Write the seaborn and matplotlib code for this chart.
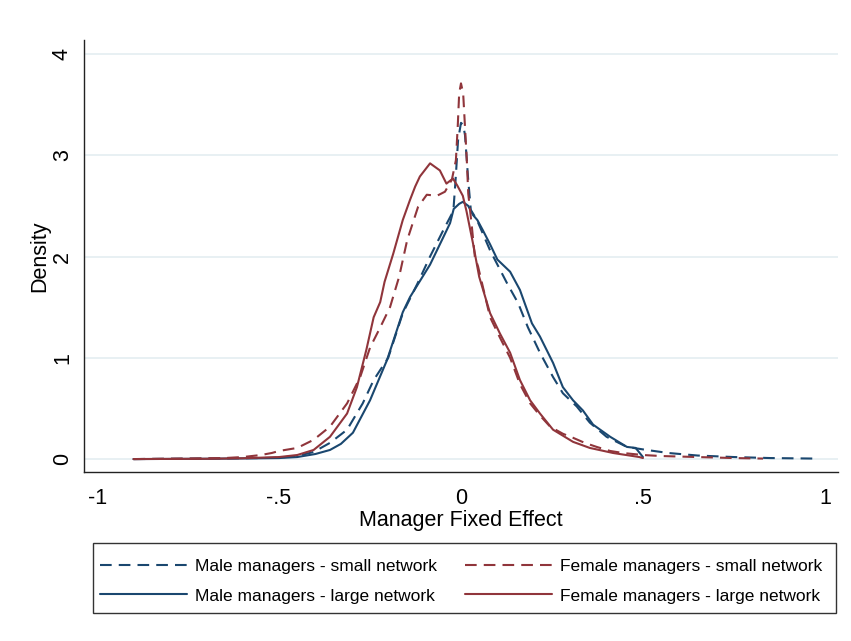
import numpy as np
import pandas as pd
import matplotlib
matplotlib.use("Agg")
import matplotlib.pyplot as plt
from matplotlib.patches import Rectangle
import seaborn as sns

# kernel density curves (x = manager FE, y = density)
male_small_x = [-0.90, -0.70, -0.55, -0.50, -0.45, -0.405, -0.36, -0.313, -0.27, -0.24, -0.20,
                -0.16, -0.12, -0.085, -0.05, -0.021, -0.015, -0.008, 0.0, 0.006, 0.011, 0.02,
                0.027, 0.044, 0.08, 0.126, 0.157, 0.184, 0.217, 0.253, 0.28, 0.318, 0.354,
                0.40, 0.456, 0.51, 0.57, 0.65, 0.75, 0.85, 0.97]
male_small_y = [0.0, 0.005, 0.01, 0.015, 0.03, 0.07, 0.16, 0.29, 0.55, 0.78, 1.0,
                1.44, 1.73, 2.0, 2.25, 2.45, 2.75, 3.15, 3.32, 3.3, 3.2, 2.75,
                2.46, 2.36, 2.06, 1.74, 1.54, 1.30, 1.05, 0.81, 0.65, 0.52, 0.36,
                0.22, 0.12, 0.09, 0.06, 0.035, 0.02, 0.01, 0.005]

male_large_x = [-0.90, -0.70, -0.55, -0.50, -0.45, -0.40, -0.36, -0.33, -0.297, -0.25, -0.203,
                -0.16, -0.14, -0.085, -0.05, -0.03, -0.02, -0.005, 0.005, 0.02, 0.033, 0.045,
                0.06, 0.08, 0.10, 0.135, 0.162, 0.195, 0.217, 0.253, 0.28, 0.308, 0.335,
                0.363, 0.41, 0.456, 0.48, 0.50]
male_large_y = [0.0, 0.003, 0.008, 0.01, 0.02, 0.05, 0.09, 0.15, 0.26, 0.58, 0.98,
                1.45, 1.6, 1.92, 2.18, 2.33, 2.47, 2.52, 2.54, 2.5, 2.41, 2.36,
                2.26, 2.12, 1.97, 1.85, 1.67, 1.34, 1.21, 0.95, 0.71, 0.58, 0.48,
                0.34, 0.22, 0.12, 0.11, 0.02]

female_small_x = [-0.90, -0.75, -0.65, -0.60, -0.55, -0.52, -0.50, -0.45, -0.405, -0.36, -0.313,
                  -0.277, -0.25, -0.222, -0.195, -0.17, -0.148, -0.118, -0.094, -0.066, -0.044,
                  -0.025, -0.014, -0.009, -0.005, 0.0, 0.006, 0.011, 0.016, 0.02, 0.03, 0.038,
                  0.047, 0.08, 0.107, 0.135, 0.162, 0.19, 0.217, 0.245, 0.28, 0.308, 0.34,
                  0.373, 0.41, 0.445, 0.50, 0.55, 0.65, 0.75, 0.83]
female_small_y = [0.0, 0.005, 0.01, 0.02, 0.04, 0.06, 0.08, 0.11, 0.19, 0.32, 0.55,
                  0.81, 1.1, 1.3, 1.5, 1.8, 2.16, 2.49, 2.61, 2.6, 2.64,
                  2.76, 2.95, 3.28, 3.61, 3.71, 3.61, 3.28, 2.95, 2.62, 2.29, 2.0,
                  1.9, 1.40, 1.2, 1.0, 0.74, 0.55, 0.43, 0.32, 0.25, 0.21, 0.16,
                  0.12, 0.08, 0.06, 0.04, 0.03, 0.02, 0.01, 0.005]

female_large_x = [-0.90, -0.70, -0.60, -0.50, -0.45, -0.405, -0.36, -0.313, -0.286, -0.26, -0.24,
                  -0.222, -0.21, -0.186, -0.16, -0.14, -0.126, -0.113, -0.085, -0.058, -0.04,
                  -0.022, -0.01, 0.005, 0.015, 0.033, 0.05, 0.08, 0.107, 0.135, 0.162, 0.19,
                  0.217, 0.253, 0.308, 0.354, 0.418, 0.49, 0.50]
female_large_y = [0.0, 0.003, 0.008, 0.02, 0.04, 0.09, 0.22, 0.45, 0.71, 1.08, 1.40,
                  1.55, 1.75, 2.03, 2.36, 2.56, 2.69, 2.79, 2.92, 2.85, 2.72,
                  2.77, 2.7, 2.6, 2.45, 2.13, 1.8, 1.44, 1.24, 1.05, 0.78, 0.58,
                  0.45, 0.29, 0.17, 0.11, 0.06, 0.02, 0.01]

x_ticks = [-1, -0.5, 0, 0.5, 1]
x_tick_labels = ["-1", "-.5", "0", ".5", "1"]
y_ticks = [0, 1, 2, 3, 4]

NAVY = "#1a476f"
MAROON = "#90353b"
DASH = (0, (5.6, 3.4))

sns.set_style("white")
plt.rcParams["font.family"] = ["Liberation Sans", "DejaVu Sans"]
plt.rcParams["text.color"] = "black"
plt.rcParams["axes.labelcolor"] = "black"
plt.rcParams["xtick.color"] = "black"
plt.rcParams["ytick.color"] = "black"

W, H = 851, 641
fig = plt.figure(figsize=(W / 100, H / 100), dpi=100)
ax = fig.add_axes([0.0987, 0.2636, 0.886, 0.674])

series = [
    ("Male managers - small network", male_small_x, male_small_y, NAVY, DASH),
    ("Male managers - large network", male_large_x, male_large_y, NAVY, "-"),
    ("Female managers - small network", female_small_x, female_small_y, MAROON, DASH),
    ("Female managers - large network", female_large_x, female_large_y, MAROON, "-"),
]
for name, xs, ys, col, ls in series:
    df = pd.DataFrame({"x": xs, "y": ys})
    sns.lineplot(data=df, x="x", y="y", ax=ax, color=col, linestyle=ls, linewidth=1.5,
                 sort=False, estimator=None, label=name, legend=False)

ax.set_xlim(-1.036, 1.036)
ax.set_ylim(-0.128, 4.138)
ax.set_xticks(x_ticks)
ax.set_xticklabels(x_tick_labels)
ax.set_yticks(y_ticks)
ax.set_yticklabels([str(v) for v in y_ticks], rotation=90, va="center")
ax.tick_params(axis="both", labelsize=15.5, length=6.5, width=1.0, color="#222222", direction="out")
ax.tick_params(axis="x", pad=5)
ax.tick_params(axis="y", pad=1.5)
ax.yaxis.grid(True, color="#e4eef1", linewidth=1.2)
ax.set_axisbelow(True)
for side in ["top", "right"]:
    ax.spines[side].set_visible(False)
for side in ["left", "bottom"]:
    ax.spines[side].set_color("#222222")
    ax.spines[side].set_linewidth(1.0)

ax.set_xlabel("Manager Fixed Effect", fontsize=15.5, labelpad=1)
ax.set_ylabel("Density", fontsize=15.5, labelpad=1)

# legend box drawn separately so the inner padding can differ from the outer frame
fig.patches.append(Rectangle((93 / W, 1 - 613 / H), (836 - 93) / W, 70 / H,
                             transform=fig.transFigure, fill=False,
                             edgecolor="#333333", linewidth=1.0))
handles, labels = ax.get_legend_handles_labels()
leg = fig.legend(handles, labels, ncol=2, loc="center", mode="expand",
                 bbox_to_anchor=(93 / W, 1 - 581 / H, (829 - 93) / W, 0),
                 fontsize=12.5, handlelength=5.0, handletextpad=0.45,
                 frameon=False, borderaxespad=0, labelspacing=0.85,
                 borderpad=0.4)

fig.savefig("out.png", dpi=100, facecolor="white")
